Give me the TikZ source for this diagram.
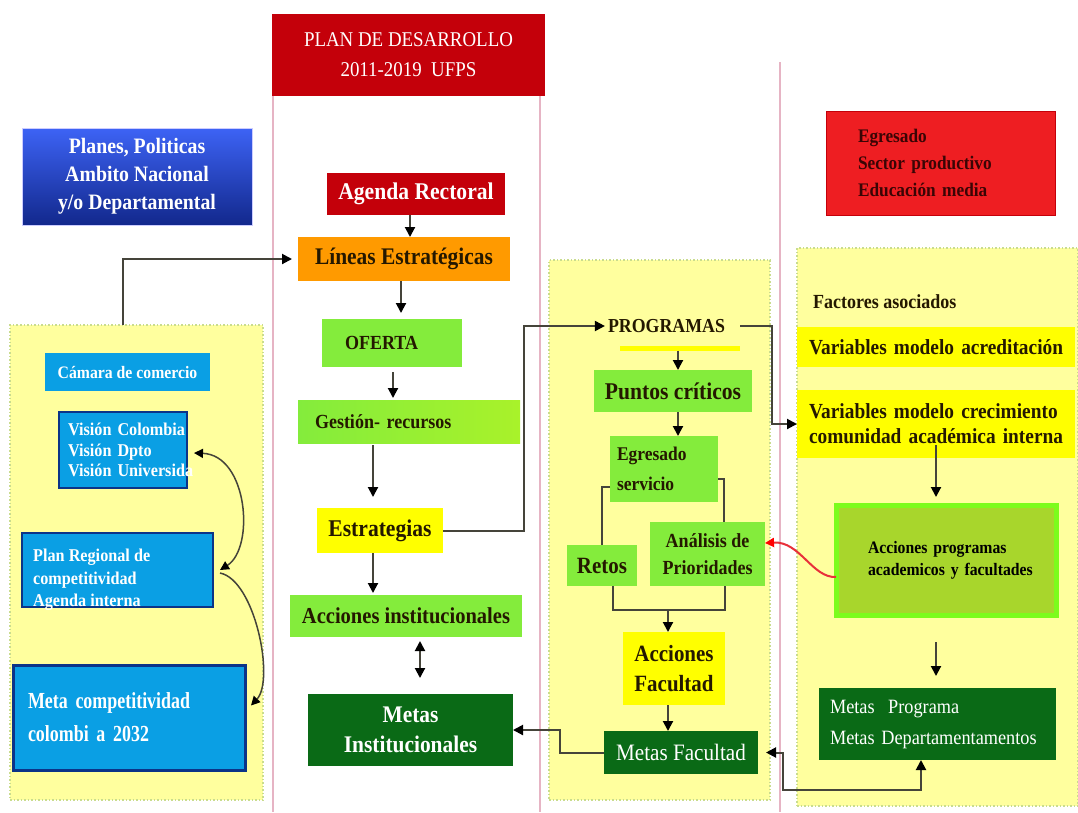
\documentclass[tikz,border=0pt]{standalone}
\usepackage{fontspec}
\setmainfont{Liberation Serif}[FakeStretch=0.9]
\newfontfamily\narrowserif{Liberation Serif}[FakeStretch=0.78]
\usetikzlibrary{arrows.meta}
\newcommand{\fsz}[2]{\fontsize{#1}{#2}\selectfont}

\definecolor{pinkline}{HTML}{E6B4C4}
\definecolor{panelfill}{HTML}{FFFF9E}
\definecolor{paneledge}{HTML}{C9DC8E}
\definecolor{hdrred}{HTML}{C4000A}
\definecolor{orangebox}{HTML}{FF9A00}
\definecolor{limebox}{HTML}{84EC3C}
\definecolor{yelbox}{HTML}{FFFF00}
\definecolor{darkgreen}{HTML}{0A6A16}
\definecolor{skyblue}{HTML}{0A9FE4}
\definecolor{navyedge}{HTML}{0B3488}
\definecolor{blueTop}{HTML}{3D63F5}
\definecolor{blueBottom}{HTML}{12288C}
\definecolor{brightred}{HTML}{EE1E22}
\definecolor{linegray}{HTML}{45443A}
\definecolor{darktext}{HTML}{241800}
\definecolor{maroontext}{HTML}{3A0505}
\definecolor{olivebox}{HTML}{A8D62C}
\definecolor{olivedge}{HTML}{7CFC1C}
\definecolor{curvered}{HTML}{E8303A}

\tikzset{
  box/.style={rectangle, inner sep=0pt, outer sep=0pt, align=center},
  panel/.style={rectangle, fill=panelfill, draw=paneledge, dotted, line width=1.5pt, inner sep=0pt},
  lime/.style={box, fill=limebox, text=darktext, font=\bfseries},
  navy/.style={box, fill=skyblue, draw=navyedge, text=white},
  arr/.style={draw=linegray, line width=2pt, -{Triangle[length=10pt,width=10pt,color=black]}},
  arrboth/.style={draw=linegray, line width=2pt, {Triangle[length=10pt,width=10pt,color=black]}-{Triangle[length=10pt,width=10pt,color=black]}},
  plain/.style={draw=linegray, line width=2pt},
  curvearr/.style={draw=linegray, line width=1.5pt, -{Triangle[length=9pt,width=9pt,color=black]}},
  curveboth/.style={draw=linegray, line width=1.5pt, {Triangle[length=9pt,width=9pt,color=black]}-{Triangle[length=9pt,width=9pt,color=black]}},
  redarr/.style={draw=curvered, line width=2pt, -{Triangle[length=9pt,width=9pt,color=red]}},
}

\begin{document}
\begin{tikzpicture}[x=1pt,y=-1pt]
\useasboundingbox (0,0) rectangle (1078,812);

% column separators
\draw[pinkline, line width=1.5pt] (273,96) -- (273,812);
\draw[pinkline, line width=1.5pt] (540,96) -- (540,812);
\draw[pinkline, line width=1.5pt] (780,62) -- (780,812);

% background panels
\node[panel, minimum width=253pt, minimum height=475pt] (leftpanel) at (136.5,562.5) {};
\node[panel, minimum width=221pt, minimum height=540pt] (midpanel) at (659.5,530) {};
\node[panel, minimum width=281pt, minimum height=558pt] (rightpanel) at (937.5,527) {};

% header
\node[box, fill=hdrred, text=white, minimum width=273pt, minimum height=82pt, font=\fsz{21}{30}] (plan) at (408.5,55) {PLAN DE DESARROLLO\\2011-2019\ \ UFPS};

% left column
\node[box, top color=blueTop, bottom color=blueBottom, draw=blue!20, line width=0.8pt, text=white, font=\bfseries\fsz{22}{28}, minimum width=230pt, minimum height=97pt] (planes) at (137,176.5) {Planes, Politicas\\Ambito Nacional\\y/o Departamental};

\node[box, fill=skyblue, text=white, font=\bfseries\fsz{17.5}{20}, minimum width=165pt, minimum height=38pt] (camara) at (127.5,372) {Cámara de comercio};

\node[navy, line width=1.5pt, font=\bfseries\fsz{18}{20.5}, minimum width=128pt, minimum height=76pt, inner xsep=9pt, text width=110pt, align=left] (vision) at (123,450) {\mbox{Visión Colombia}\\Visión Dpto\\\mbox{Visión Universida}};

\node[navy, line width=1.5pt, minimum width=191pt, minimum height=74pt] (regional) at (117.5,570) {};
\node[anchor=west, inner sep=0pt, text=white, align=left, font=\bfseries\fsz{18}{22.5}] (regionaltext) at ([xshift=11pt,yshift=-10pt]regional.west) {Plan Regional de\\competitividad\\Agenda interna};

\node[navy, line width=3pt, font=\narrowserif\bfseries\fsz{23}{33}, minimum width=232pt, minimum height=105pt, inner xsep=15pt, text width=202pt, align=left] (meta) at (129,717.5) {Meta competitividad\\colombi a 2032};

% central column
\node[box, fill=hdrred, text=white, font=\bfseries\fsz{24}{28}, minimum width=178pt, minimum height=42pt] (agenda) at (416,194) {Agenda Rectoral};
\node[box, fill=orangebox, text=darktext, font=\bfseries\fsz{23.8}{28}, minimum width=212pt, minimum height=44pt] (lineas) at (404,259) {Líneas Estratégicas};
\node[lime, font=\bfseries\fsz{20}{24}, minimum width=140pt, minimum height=48pt, inner xsep=23pt, text width=94pt, align=left] (oferta) at (392,343) {OFERTA};
\node[box, left color=limebox, right color=limebox!70!yellow, text=darktext, font=\bfseries\fsz{20}{24}, minimum width=222pt, minimum height=43pt, inner xsep=17pt, text width=188pt, align=left] (gestion) at (409,421.5) {Gestión- recursos};
\node[box, fill=yelbox, text=darktext, font=\bfseries\fsz{24}{28}, minimum width=126pt, minimum height=45pt] (estrat) at (380,530.5) {Estrategias};
\node[lime, font=\bfseries\fsz{22.8}{26}, minimum width=232pt, minimum height=42pt] (acinst) at (406,616) {Acciones institucionales};
\node[box, fill=darkgreen, text=white, font=\bfseries\fsz{23.8}{30}, minimum width=205pt, minimum height=72pt] (metasinst) at (410.5,730) {Metas\\Institucionales};

% programs column
\node[inner xsep=3pt, inner ysep=2pt, text=darktext, font=\bfseries\fsz{19.8}{22}] (programas) at (666.5,326) {PROGRAMAS};
\node[box, fill=yelbox, minimum width=120pt, minimum height=5pt] (progbar) at (680,348) {};
\node[lime, font=\bfseries\fsz{24}{28}, minimum width=158pt, minimum height=42pt] (puntos) at (673,391) {Puntos críticos};
\node[lime, font=\bfseries\fsz{19.4}{30}, minimum width=108pt, minimum height=66pt, inner xsep=7pt, text width=94pt, align=left] (egres) at (664,469) {Egresado\\servicio};
\node[lime, font=\bfseries\fsz{23.3}{27}, minimum width=70pt, minimum height=41pt] (retos) at (602,565.5) {Retos};
\node[lime, font=\bfseries\fsz{20}{27}, minimum width=115pt, minimum height=64pt] (analisis) at (707.5,554) {Análisis de\\Prioridades};
\node[box, fill=yelbox, text=darktext, font=\bfseries\fsz{23.3}{30}, minimum width=102pt, minimum height=73pt] (acfac) at (674,668.5) {Acciones\\Facultad};
\node[box, fill=darkgreen, text=white, font=\fsz{23.5}{27}, minimum width=154pt, minimum height=43pt] (metasfac) at (681,752.5) {Metas Facultad};

% right column
\node[box, fill=brightred, draw=hdrred, line width=1pt, text=maroontext, font=\bfseries\fsz{19.2}{27}, minimum width=229pt, minimum height=104pt, inner xsep=32pt, text width=165pt, align=left] (egrbox) at (940.5,163) {Egresado\\Sector productivo\\Educación media};
\node[anchor=west, inner sep=0pt, text=darktext, font=\bfseries\fsz{20}{22}] (factores) at (813,302) {Factores asociados};
\node[box, fill=yelbox, text=darktext, font=\bfseries\fsz{21.5}{25}, minimum width=278pt, minimum height=40pt, inner xsep=12pt, text width=254pt, align=left] (varacred) at (936,347) {\mbox{Variables modelo acreditación}};
\node[box, fill=yelbox, text=darktext, font=\bfseries\fsz{21.5}{25}, minimum width=278pt, minimum height=68pt, inner xsep=12pt, text width=254pt, align=left] (varcrec) at (936,424) {\mbox{Variables modelo crecimiento}\\\mbox{comunidad académica interna}};
\node[box, fill=olivebox, draw=olivedge, line width=5pt, text=black, font=\bfseries\fsz{17.5}{22}, minimum width=220pt, minimum height=110pt, inner xsep=32pt, text width=156pt, align=left] (accprog) at (946,560) {\mbox{Acciones programas}\\\mbox{academicos y facultades}};
\node[box, fill=darkgreen, text=white, font=\fsz{20.3}{31}, minimum width=237pt, minimum height=72pt, inner xsep=11pt, text width=215pt, align=left] (metasprog) at (937.5,724) {Metas\ \ Programa\\\mbox{Metas Departamentamentos}};

% helper positions for vertical connectors
\coordinate (lp) at (123,325);
\coordinate (xa) at (410,0);
\coordinate (xb) at (401,0);
\coordinate (xc) at (393,0);
\coordinate (xd) at (373,0);
\coordinate (xe) at (420,0);
\coordinate (xf) at (678,0);
\coordinate (xg) at (668,0);
\coordinate (xh) at (936,0);
\coordinate (xi) at (921,0);
\coordinate (c1) at (524,326);
\coordinate (join) at (668,610);
\coordinate (bendx) at (560,0);
\coordinate (pr) at (772,0);
\coordinate (rb) at (783,790);

% central flow
\draw[arr, shorten >=6pt] (lp) |- (lineas.west);
\draw[arr] (agenda.south -| xa) -- (lineas.north -| xa);
\draw[arr, shorten >=6pt] (lineas.south -| xb) -- (oferta.north -| xb);
\draw[arr, shorten <=5pt, shorten >=2pt] (oferta.south -| xc) -- (gestion.north -| xc);
\draw[arr, shorten <=2pt, shorten >=11pt] (gestion.south -| xd) -- (estrat.north -| xd);
\draw[arr, shorten >=2pt] (estrat.south -| xd) -- (acinst.north -| xd);
\draw[arrboth, shorten <=4pt, shorten >=16pt] (acinst.south -| xe) -- (metasinst.north -| xe);
\draw[arr] (estrat.east) -| (c1) -- (programas.west);

% programs flow
\draw[arr] (progbar.south -| xf) -- (puntos.north -| xf);
\draw[arr] (puntos.south -| xf) -- (egres.north -| xf);
\draw[plain] ([yshift=-18pt]egres.west) -| (retos.north);
\draw[plain] ([yshift=-10pt]egres.east) -| ([xshift=16pt]analisis.north);
\draw[plain] ([xshift=11pt]retos.south) |- (join) -| ([xshift=17pt]analisis.south);
\draw[arr] (join) -- (acfac.north -| join);
\draw[arr] (acfac.south -| xg) -- (metasfac.north -| xg);
\draw[arr] (metasfac.west) -- (metasfac.west -| bendx) |- (metasinst.east);
\draw[arr, shorten <=12pt] (programas.east) -- (programas.east -| pr) |- (varcrec.west);

% right flow
\draw[arr, shorten <=-13pt, shorten >=8pt] (varcrec.south -| xh) -- (accprog.north -| xh);
\draw[arr, shorten <=27pt, shorten >=12pt] (accprog.south -| xh) -- (metasprog.north -| xh);
\draw[arrboth, shorten <=8pt] (metasfac.east) -| (rb) -| (metasprog.south -| xi);
\draw[redarr] ([yshift=-17pt]accprog.west) .. controls (812,578) and (800,541) .. ([yshift=11pt]analisis.east);

% links between the regional plans
\draw[curveboth] ([xshift=7pt]regional.east) .. controls (255,548) and (248,455) .. ([xshift=7pt,yshift=-3pt]vision.east);
\draw[curvearr] ([xshift=7pt,yshift=-3pt]regional.east) .. controls (255,580) and (275,680) .. ([xshift=6pt,yshift=12pt]meta.east);
\end{tikzpicture}
\end{document}
